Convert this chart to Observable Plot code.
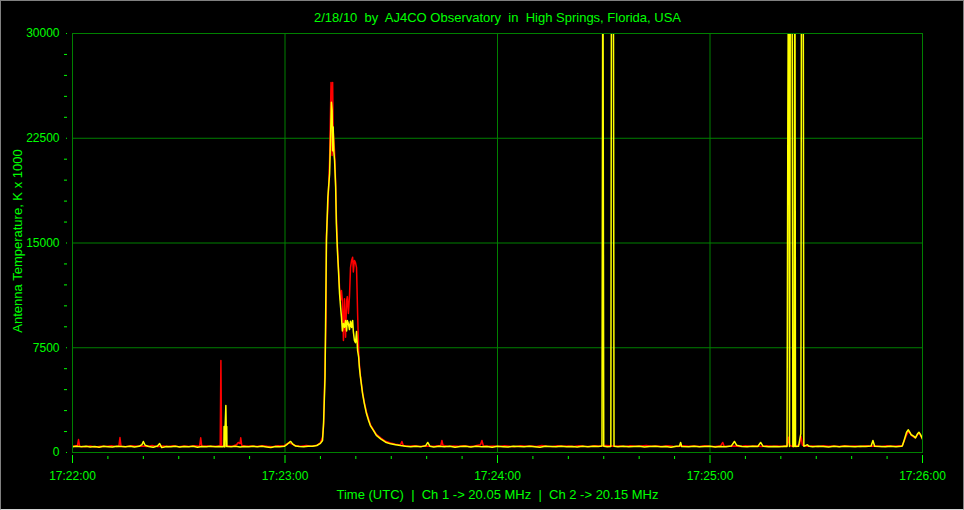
<!DOCTYPE html>
<html><head><meta charset="utf-8">
<script src="https://cdn.jsdelivr.net/npm/d3@7"></script>
<script src="https://cdn.jsdelivr.net/npm/@observablehq/plot@0.6"></script>
<style>
html,body{margin:0;padding:0;background:#000;}
#wrap{position:relative;width:964px;height:510px;overflow:hidden;background:#000;}
#border{position:absolute;left:0;top:0;width:962px;height:508px;border:1px solid #808080;border-bottom-color:#d4d4d4;pointer-events:none;}
svg text{white-space:pre;}
</style></head><body><div id="wrap"><div id="border"></div></div>
<script>
// ---- text ----
const titleText = "2/18/10  by  AJ4CO Observatory  in  High Springs, Florida, USA";
const xLabelText = "Time (UTC)  |  Ch 1 -> 20.05 MHz  |  Ch 2 -> 20.15 MHz";
const yLabelText = "Antenna Temperature, K x 1000";

// ---- ticks ----
const xMajor = [0, 60, 120, 180, 240]; // seconds after 17:22:00
const xTickLabels = ["17:22:00", "17:23:00", "17:24:00", "17:25:00", "17:26:00"];
const xMinor = [10,20,30,40,50,70,80,90,100,110,130,140,150,160,170,190,200,210,220,230];
const yMajor = [0, 7500, 15000, 22500, 30000];
const yMinor = [1500,3000,4500,6000,9000,10500,12000,13500,16500,18000,19500,21000,24000,25500,27000,28500];

// ---- Ch 1 (red) : seconds after 17:22:00, antenna temperature ----
const ch1Sec = [
0,1.4,1.7,2.0,3.5,5,6.5,8,9.5,11,12.5,13.1,13.4,13.7,15,16.5,18,19.5,21,22.5,24,25.5,27,28.5,30,31.5,33,34.5,35.9,36.2,36.5,38,39.5,41,41.7,41.9,42.1,43.5,45,
46.3,46.8,47.3,47.5,47.8,49,50.5,52,53.5,55,56.5,58,59.5,61,62,63,64.5,66,67.5,69,70,70.6,
70.9,71.3,71.6,71.7,72.1,72.6,72.85,73.0,73.2,73.3,73.45,73.6,73.8,74.0,74.3,74.5,74.8,75.1,75.4,75.7,75.95,76.2,76.5,76.8,77.1,77.4,77.6,77.9,78.2,78.5,78.8,79.1,79.3,79.6,79.9,80.2,80.5,80.8,81,81.3,81.9,82.4,83,83.6,84.1,85,85.8,87,88.4,89.8,91.2,92.6,
93,93.4,95,96.5,98,99.5,101,102.5,104,104.3,104.6,106,107.5,109,110.5,112,113.5,115.2,115.6,116,117.5,119,120.5,122,123.5,125,126.5,128,129.5,131,132.5,134,135.5,137,138.5,140,141.5,143,144.5,146,147.5,149,
150.5,151.5,153,154.5,156,157.5,159,160.5,162,163.5,165,166.5,168,169.5,171,172.5,174,175.5,177,178.5,180,181.5,183,183.6,184,185.5,187,188.5,190,191.5,193,194.5,196,197.5,199,200.5,
201.8,202.2,202.5,203.5,204.5,205.3,205.7,206.1,207.5,209,210.5,212,213.5,215,216.5,218,219.5,221,222.5,224,225.5,227,228.5,230,231.5,233,234.3,234.8,235.4,236,236.5,237.2,238,238.6,239.2,240
];
const ch1Temp = [
440,500,930,450,420,470,400,450,430,480,420,450,1070,440,420,480,440,470,430,500,420,470,430,490,420,460,430,480,450,1050,440,470,430,460,480,6590,470,480,440,
560,720,640,1050,500,440,470,430,490,450,420,480,460,690,600,480,440,500,450,520,700,1100,
1900,6200,9700,15500,17500,21000,24500,26500,22000,21270,26500,23000,22340,21500,19300,17000,14800,13200,11800,10900,11600,10880,8020,11000,8260,10880,11160,9950,11160,13240,13750,13980,12930,13750,13600,13240,9950,7300,6300,5500,4300,3600,2900,2400,2000,1620,1300,1050,800,680,600,540,
790,500,450,480,430,470,440,460,500,860,520,430,470,440,480,430,460,560,860,480,440,470,430,490,450,420,480,440,470,430,500,450,430,480,440,470,430,490,450,430,480,440,
510,480,440,470,430,480,440,470,500,440,470,430,490,450,430,480,440,470,430,490,450,430,480,720,450,440,470,430,490,440,470,430,480,440,470,430,
500,1100,500,420,460,600,1150,520,440,470,430,490,440,470,430,480,440,470,430,490,440,470,430,480,440,470,500,800,1200,1500,1380,1150,1050,1300,1350,950
];

// ---- Ch 2 (yellow) ----
const ch2Sec = [
0,1.2,2.5,3.8,5,6.3,7.5,8.8,10,11.3,12.5,13.8,15,16.3,17.5,18.8,19.6,20,20.5,21.5,22.8,24,24.6,25.2,26.5,27.8,29,30.3,31.5,32.8,34,35.3,36.5,37.8,39,40.3,41.5,
42.6,42.75,42.8,43.0,43.1,43.3,43.4,43.5,43.55,43.6,44.8,46,47.3,48.5,49.8,51,52.3,53.5,54.8,56,57.3,58.5,59.8,60.5,61.2,61.6,62.2,63,64,65.3,66.5,67.8,69,70,70.6,
70.9,71.3,71.7,72.1,72.6,72.85,73.0,73.1,73.3,73.45,73.6,73.8,74.0,74.3,74.5,74.8,75.1,75.4,75.7,75.95,76.2,76.5,76.8,77.1,77.4,77.6,77.9,78.2,78.5,78.8,79.1,79.3,79.6,79.9,80.2,80.5,80.8,81,81.3,81.9,82.4,83,83.6,84.1,85,85.8,87,88.4,89.8,91.2,92.6,
94,95.5,97,98.5,99.7,100.3,100.9,102,103.5,105,106.5,108,109.5,111,112.5,114,115.5,117,118.5,120,121.5,123,124.5,126,127.5,129,130.5,132,133.5,135,136.5,138,139.5,141,142.5,144,145.5,147,148.5,
149.5,149.75,150,151,152,152.2,152.7,152.9,154,155.5,157,158.5,160,161.5,163,164.5,166,167.5,169,170.5,171.4,171.7,172,174,175.5,177,178.5,180,181.5,183,184.5,186,186.9,187.5,189,190.5,192,193.5,194.3,195,196.5,198,199.5,201,
201.75,201.98,202.22,202.45,202.72,203.15,203.4,203.75,203.95,204.15,205,205.65,205.85,206.3,206.5,207.5,208,209,210.5,212,213.5,215,216.5,218,219.5,221,222.5,224,225.5,226,226.5,228,229.5,231,232.5,234,234.3,234.8,235.5,236,236.4,236.8,237.5,238,238.6,239,239.4,240
];
const ch2Temp = [
420,450,410,440,400,430,380,440,420,400,450,430,410,440,390,440,560,790,520,430,380,460,640,350,430,420,450,400,430,410,440,380,430,420,440,410,430,
420,430,1860,400,1860,3365,1860,430,1860,430,420,450,400,430,410,440,420,450,400,360,430,410,440,560,720,790,600,460,430,420,450,440,500,650,860,
2170,5390,15180,18280,19970,22500,24000,25080,24500,21600,23300,21500,20900,19000,16400,14460,13030,11380,10400,9690,8700,9240,8970,9450,8700,9450,9240,8800,9400,8950,9450,8660,8020,7860,8660,7300,6820,6100,5390,4220,3500,2790,2290,1930,1570,1220,980,740,620,560,500,
450,410,440,420,480,720,450,400,440,420,450,380,430,440,400,450,420,430,370,440,420,400,450,430,410,440,420,380,440,430,410,450,420,430,400,440,420,450,430,
460,40000,440,420,430,40000,40000,440,420,450,410,430,440,400,430,450,420,430,380,440,460,720,430,420,440,410,430,450,400,430,420,460,790,520,430,410,440,430,720,440,420,430,410,440,
430,23900,40000,430,40000,40000,430,430,40000,430,440,1350,40000,40000,440,560,440,420,450,430,400,440,420,450,430,410,440,430,460,860,450,430,410,440,420,450,470,860,1450,1625,1450,1270,1170,1050,1340,1450,1300,980
];

if (ch1Sec.length !== ch1Temp.length) console.error("ch1 length mismatch", ch1Sec.length, ch1Temp.length);
if (ch2Sec.length !== ch2Temp.length) console.error("ch2 length mismatch", ch2Sec.length, ch2Temp.length);

const ch1 = ch1Sec.map((t, i) => ({t, k: ch1Temp[i]}));
const ch2 = ch2Sec.map((t, i) => ({t, k: ch2Temp[i]}));

const green = "#00ff00";
const gridGreen = "#008000";

const chart = Plot.plot({
  width: 964,
  height: 510,
  marginLeft: 72,
  marginRight: 42,
  marginTop: 33,
  marginBottom: 58,
  style: {background: "#000", color: green, fontFamily: "'Liberation Sans', Arial, sans-serif", fontSize: "12px"},
  x: {domain: [0, 240], label: null},
  y: {domain: [0, 30000], label: null},
  marks: [
    Plot.gridX(xMajor.slice(1, -1), {stroke: gridGreen, strokeOpacity: 1}),
    Plot.gridY(yMajor.slice(1, -1), {stroke: gridGreen, strokeOpacity: 1}),
    Plot.line(ch1, {x: "t", y: "k", stroke: "#ff0000", strokeWidth: 1.5, clip: true}),
    Plot.line(ch2, {x: "t", y: "k", stroke: "#ffff00", strokeWidth: 1.5, clip: true}),
    Plot.frame({stroke: gridGreen}),
    Plot.axisX(xMinor, {tickSize: 3, dy: 4, tickFormat: () => "", stroke: green, label: null}),
    Plot.axisX(xMajor, {tickSize: 8, dy: 3, tickFormat: () => "", stroke: green, label: null}),
    Plot.axisX(xMajor, {tickSize: 0, tickPadding: 19, tickFormat: d => xTickLabels[xMajor.indexOf(d)], fill: green, label: null}),
    Plot.axisY(yMinor, {tickSize: 3, dx: -5, tickFormat: () => "", stroke: green, label: null}),
    Plot.axisY(yMajor, {tickSize: 1, dx: -5, tickFormat: () => "", stroke: green, label: null}),
    Plot.axisY(yMajor, {tickSize: 0, tickPadding: 13, tickFormat: d => String(d), fill: green, label: null}),
    Plot.text([titleText], {frameAnchor: "top", lineAnchor: "middle", textAnchor: "middle", dy: -16, fill: green, fontSize: 13}),
    Plot.text([xLabelText], {frameAnchor: "bottom", lineAnchor: "middle", textAnchor: "middle", dy: 42, fill: green, fontSize: 13}),
    Plot.text([yLabelText], {frameAnchor: "left", lineAnchor: "middle", textAnchor: "middle", rotate: -90, dx: -55, dy: -2, fill: green, fontSize: 13})
  ]
});

const wrap = document.getElementById("wrap");
wrap.insertBefore(chart, document.getElementById("border"));
</script>
</body></html>
